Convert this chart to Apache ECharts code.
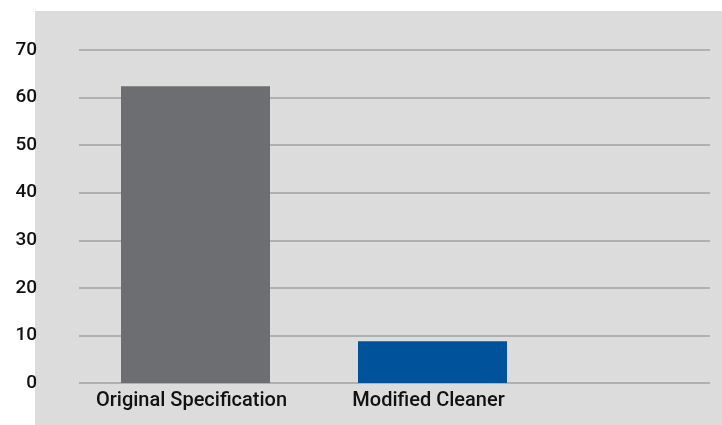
<!DOCTYPE html>
<html>
<head>
<meta charset="utf-8">
<style>
  html, body { margin: 0; padding: 0; background: #fff; }
  #chart { width: 722px; height: 425px; }
</style>
<script src="https://cdn.jsdelivr.net/npm/echarts@6/dist/echarts.min.js"></script>
</head>
<body>
<div id="chart"></div>
<script>
const categories = ["Original Specification", "Modified Cleaner", ""];
const values = [62.4, 8.8, null];
const barColors = ["#6d6e71", "#00529b"];
const yTicks = [0, 10, 20, 30, 40, 50, 60, 70];

const labelFont = "Roboto, sans-serif";

const chart = echarts.init(document.getElementById("chart"));
chart.setOption({
  animation: false,
  backgroundColor: "#ffffff",
  graphic: [
    {
      type: "rect",
      z: -10,
      shape: { x: 35, y: 11, width: 687, height: 414 },
      style: { fill: "#dcdcdc" },
    },
  ],
  grid: [
    { left: 79, right: 12, top: 50, bottom: 42, outerBoundsMode: "none" },
    { left: 77, width: 711, top: 50, bottom: 42, outerBoundsMode: "none" },
  ],
  xAxis: [
    { gridIndex: 0, type: "value", show: false, min: 0, max: 1 },
    {
      gridIndex: 1,
      type: "category",
      data: categories,
      axisLine: { show: false },
      axisTick: { show: false },
      axisLabel: {
        interval: 0,
        hideOverlap: false,
        color: "#111",
        fontSize: 20,
        fontWeight: 500,
        fontFamily: labelFont,
        margin: 8,
        padding: [0, 8, 0, 0],
      },
    },
  ],
  yAxis: [
    {
      gridIndex: 0,
      type: "value",
      min: 0,
      max: yTicks[yTicks.length - 1],
      interval: 10,
      axisLine: { show: false },
      axisTick: { show: false },
      axisLabel: {
        color: "#111",
        fontSize: 19,
        fontWeight: 500,
        fontFamily: labelFont,
        margin: 42,
      },
      splitLine: { lineStyle: { color: "#a2a2a2", width: 1.5 } },
    },
    {
      gridIndex: 1,
      type: "value",
      min: 0,
      max: yTicks[yTicks.length - 1],
      show: false,
      splitLine: { show: false },
    },
  ],
  series: [
    {
      type: "bar",
      xAxisIndex: 1,
      yAxisIndex: 1,
      barWidth: 149,
      data: values.map((v, i) => ({
        value: v,
        itemStyle: { color: barColors[i] },
      })),
    },
  ],
});

window.addEventListener("resize", () => {
  chart.resize();
});
</script>
</body>
</html>
